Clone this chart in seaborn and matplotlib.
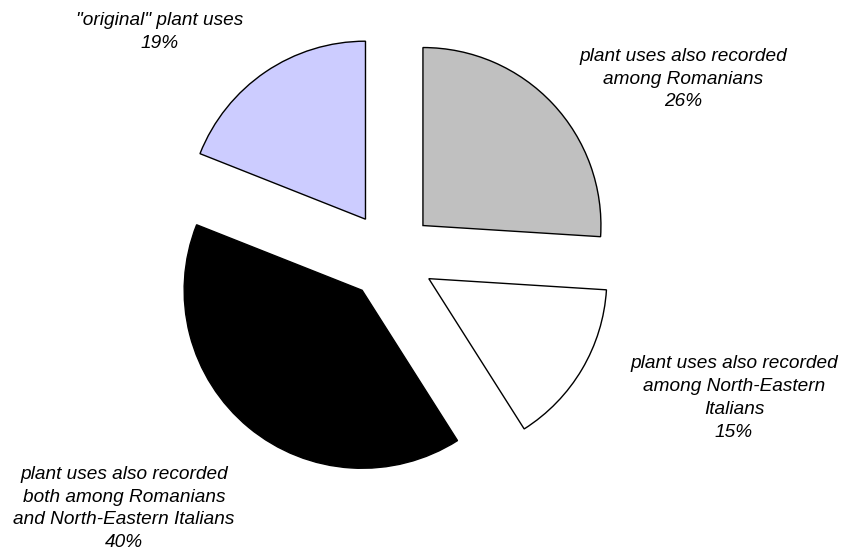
import matplotlib
matplotlib.use("Agg")
import matplotlib.pyplot as plt
import seaborn as sns

sns.set_theme(style="white")
plt.rcParams['font.family'] = ['Liberation Sans', 'DejaVu Sans']

# data
categories = [
    "plant uses also recorded\namong Romanians",
    "plant uses also recorded\namong North-Eastern\nItalians",
    "plant uses also recorded\nboth among Romanians\nand North-Eastern Italians",
    "\"original\" plant uses",
]
shares = [26, 15, 40, 19]
colors = ["#C0C0C0", "#FFFFFF", "#000000", "#CCCCFF"]

# label anchor positions (pixels, y measured up from bottom)
label_xy = [(683, 474), (734, 155), (124, 44.5), (160, 521)]

RADIUS = 178
OFFSET = 44.5  # explode distance in data units (matplotlib does not scale by radius)

fig = plt.figure(figsize=(8.54, 5.53), dpi=100)
ax = fig.add_axes([0, 0, 1, 1])

ax.pie(shares, colors=colors, startangle=90, counterclock=False,
       explode=[OFFSET] * len(shares), center=(390.5, 297), radius=RADIUS,
       wedgeprops=dict(edgecolor="black", linewidth=1.0), frame=True)
ax.set_xlim(0, 854)
ax.set_ylim(0, 553)
ax.set_aspect('equal')
ax.axis('off')

for cat, val, (x, y) in zip(categories, shares, label_xy):
    ax.text(x, y, f"{cat}\n{val}%", ha='center', va='center',
            multialignment='center', fontsize=13.7, fontstyle='italic',
            linespacing=1.45, color='black')

fig.savefig("out.png", dpi=100)
